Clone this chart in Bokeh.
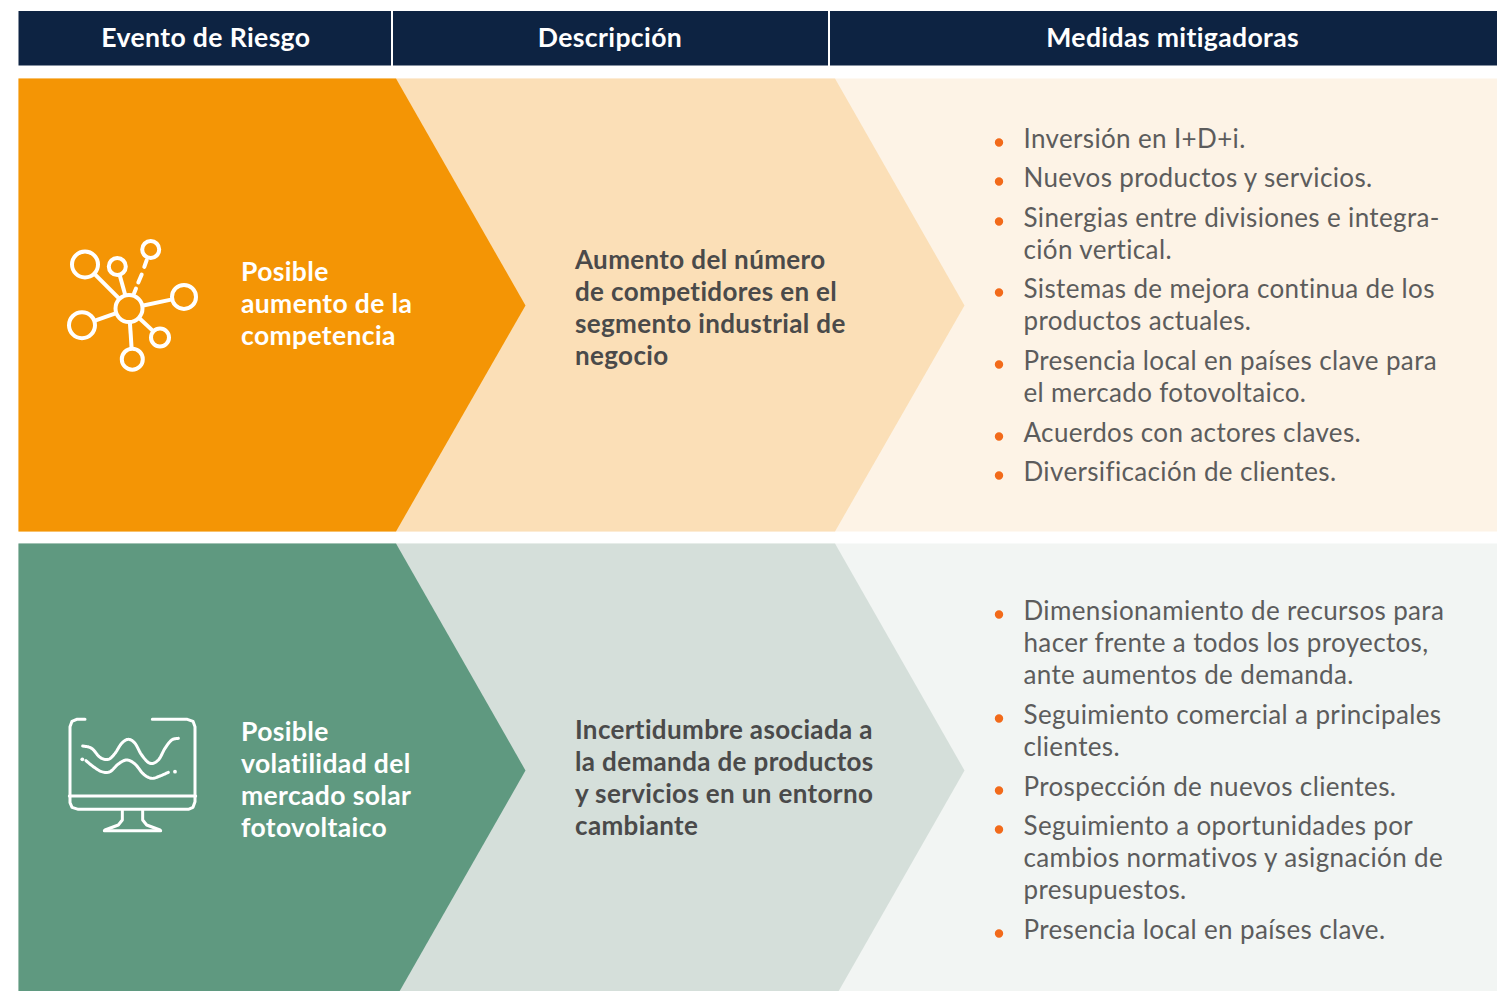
from bokeh.plotting import figure
from bokeh.embed import file_html
from bokeh.resources import INLINE
from bokeh.core.properties import value
import numpy as np

W, H = 1497, 991
FONT = "Lato"

# ---- content -------------------------------------------------------------
headers = ["Evento de Riesgo", "Descripción", "Medidas mitigadoras"]
header_x0 = [18, 392.5, 829.5]
header_x1 = [390.5, 827.5, 1497]
header_cx = [202.5, 607.5, 1169]

rows_y = [(78, 531), (543, 997)]
tip_y = [305, 770]
col1_colors = ["#f49505", "#5f9980"]
col2_colors = ["#fbdfb7", "#d5dfda"]
col3_colors = ["#fdf3e6", "#f2f5f3"]

event_lines = [["Posible", "aumento de la", "competencia"],
               ["Posible", "volatilidad del", "mercado solar", "fotovoltaico"]]
event_y = [[272, 304, 336], [732, 764, 796, 828]]
desc_lines = [["Aumento del número", "de competidores en el", "segmento industrial de", "negocio"],
              ["Incertidumbre asociada a", "la demanda de productos", "y servicios en un entorno", "cambiante"]]
desc_y = [[260, 292, 324, 356], [730, 762, 794, 826]]

mit_lines = ["Inversión en I+D+i.", "Nuevos productos y servicios.",
             "Sinergias entre divisiones e integra-", "ción vertical.",
             "Sistemas de mejora continua de los", "productos actuales.",
             "Presencia local en países clave para", "el mercado fotovoltaico.",
             "Acuerdos con actores claves.", "Diversificación de clientes.",
             "Dimensionamiento de recursos para", "hacer frente a todos los proyectos,",
             "ante aumentos de demanda.",
             "Seguimiento comercial a principales", "clientes.",
             "Prospección de nuevos clientes.",
             "Seguimiento a oportunidades por", "cambios normativos y asignación de",
             "presupuestos.", "Presencia local en países clave."]
mit_y = [139, 178, 218, 250, 289, 321, 361, 393, 433, 472,
         611, 643, 675, 715, 747, 787, 826, 858, 890, 930]
bullet_y = [142, 181, 221, 292, 364, 436, 475, 614, 718, 790, 829, 933]
TEXT_DY = -1.5
TEXT_DX = -1

# network icon
hub = (128.5, 308, 13.5)
nodes_x = [84.5, 116.8, 183.5, 81.5, 159.5, 131.8]
nodes_y = [264, 266, 296.4, 324.7, 337, 358.7]
nodes_r = [13, 8.5, 12, 13, 9, 10.5]
dash_node = (150.2, 249, 8.5)
dash_xs = [[133.5, 135.5], [137.8, 141.2], [143.8, 146.2]]
dash_ys = [[293, 288], [282, 274], [266.4, 259.7]]

# monitor icon, as points in the icon's own zoomed frame
wave1 = [(98,138),(125,145),(150,172),(175,178),(195,160),(215,130),(235,118),(255,130),
         (275,165),(300,190),(325,180),(345,145),(365,120),(385,115)]
wave2 = [(108,182),(130,200),(155,215),(180,215),(205,192),(230,180),(255,192),(280,222),
         (305,235),(330,228),(355,217)]
outline_left = [(105,58),(80,58),(66,64),(60,80),(60,308),(66,322),(85,328),(415,328),(429,322),
                (435,305),(435,80),(429,64),(412,58),(307,58)]
midline = [(58,288),(437,288)]
stand_l = [(217,330),(217,360),(205,375),(165,390)]
stand_r = [(278,330),(278,360),(290,375),(330,390)]
base = [(163,392),(332,392)]
dots = [(97,178),(375,215)]

# ---- drawing -------------------------------------------------------------
p = figure(width=W, height=H, x_range=(0, W), y_range=(H, 0), toolbar_location=None,
           output_backend="svg", min_border=0, outline_line_color=None,
           background_fill_color="white", border_fill_color="white",
           styles={"position": "absolute", "left": "0px", "top": "0px",
                   "font-variant-ligatures": "none", "letter-spacing": "0.36px"})
p.axis.visible = False
p.grid.visible = False

def chev(xl, y0, y1, xb, xt, ty):
    return [xl, xb, xt, xb, xl], [y0, y0, ty, y1, y1]

for i, (y0, y1) in enumerate(rows_y):
    p.quad(left=18, right=1497, top=y0, bottom=y1, fill_color=col3_colors[i], line_color=None)
    xs, ys = chev(18, y0, y1, 834.5, 964, tip_y[i])
    p.patch(xs, ys, fill_color=col2_colors[i], line_color=None)
    xs, ys = chev(18, y0, y1, 395.5, 525, tip_y[i])
    p.patch(xs, ys, fill_color=col1_colors[i], line_color=None)

p.quad(left=header_x0, right=header_x1, top=10.5, bottom=65, fill_color="#0d2342", line_color=None)
p.text(header_cx, [37.5 + TEXT_DY]*3, text=headers, text_color="white", text_font=value(FONT),
       text_font_style="bold", text_font_size="26.6px", text_align="center", text_baseline="middle")

def shift(vals, d):
    return [v + d for v in vals]

for i in range(2):
    p.text([241.5 + TEXT_DX]*len(event_lines[i]), shift(event_y[i], TEXT_DY), text=event_lines[i],
           text_color="white", text_font=value(FONT), text_font_style="bold",
           text_font_size="26.5px", text_baseline="middle")
    p.text([575.5 + TEXT_DX]*len(desc_lines[i]), shift(desc_y[i], TEXT_DY), text=desc_lines[i],
           text_color="#4a4a4a", text_font=value(FONT), text_font_style="bold",
           text_font_size="26px", text_baseline="middle")

p.text([1024 + TEXT_DX]*len(mit_lines), shift(mit_y, TEXT_DY), text=mit_lines, text_color="#5c5c5c",
       text_font=value(FONT), text_font_size="26px", text_baseline="middle")
p.circle([998.5]*len(bullet_y), bullet_y, radius=4.2, fill_color="#f26a1a", line_color=None)

# network icon
lw = 4
p.circle(nodes_x + [dash_node[0], hub[0]], nodes_y + [dash_node[1], hub[1]],
         radius=nodes_r + [dash_node[2], hub[2]], fill_color=None, line_color="white", line_width=lw)
for nx, ny, nr in zip(nodes_x, nodes_y, nodes_r):
    d = np.hypot(nx - hub[0], ny - hub[1])
    ux, uy = (nx - hub[0]) / d, (ny - hub[1]) / d
    p.line([hub[0] + ux*hub[2], nx - ux*nr], [hub[1] + uy*hub[2], ny - uy*nr], line_color="white", line_width=lw)
p.multi_line(dash_xs, dash_ys, line_color="white", line_width=lw, line_cap="round")

# monitor icon
def smooth(pts, n=10):
    pts = np.array([pts[0]] + pts + [pts[-1]], float)
    out = []
    for k in range(1, len(pts) - 2):
        p0, p1, p2, p3 = pts[k-1], pts[k], pts[k+1], pts[k+2]
        for t in np.linspace(0, 1, n, endpoint=False):
            out.append(0.5*((2*p1) + (p2-p0)*t + (2*p0-5*p1+4*p2-p3)*t**2 + (3*p1-p0-3*p2+p3)*t**3))
    out.append(pts[-1])
    return out

def icon(pts):
    a = np.array(pts, float)
    return 49.5 + a[:, 0]/3, 699.5 + a[:, 1]/3

for pts in [smooth(wave1), smooth(wave2), outline_left, midline, stand_l, stand_r, base]:
    xs, ys = icon(pts)
    p.line(xs, ys, line_color="white", line_width=3, line_cap="round", line_join="round")
xs, ys = icon(dots)
p.circle(xs, ys, radius=1.9, fill_color="white", line_color=None)

open("out.html", "w").write(file_html(p, INLINE))
